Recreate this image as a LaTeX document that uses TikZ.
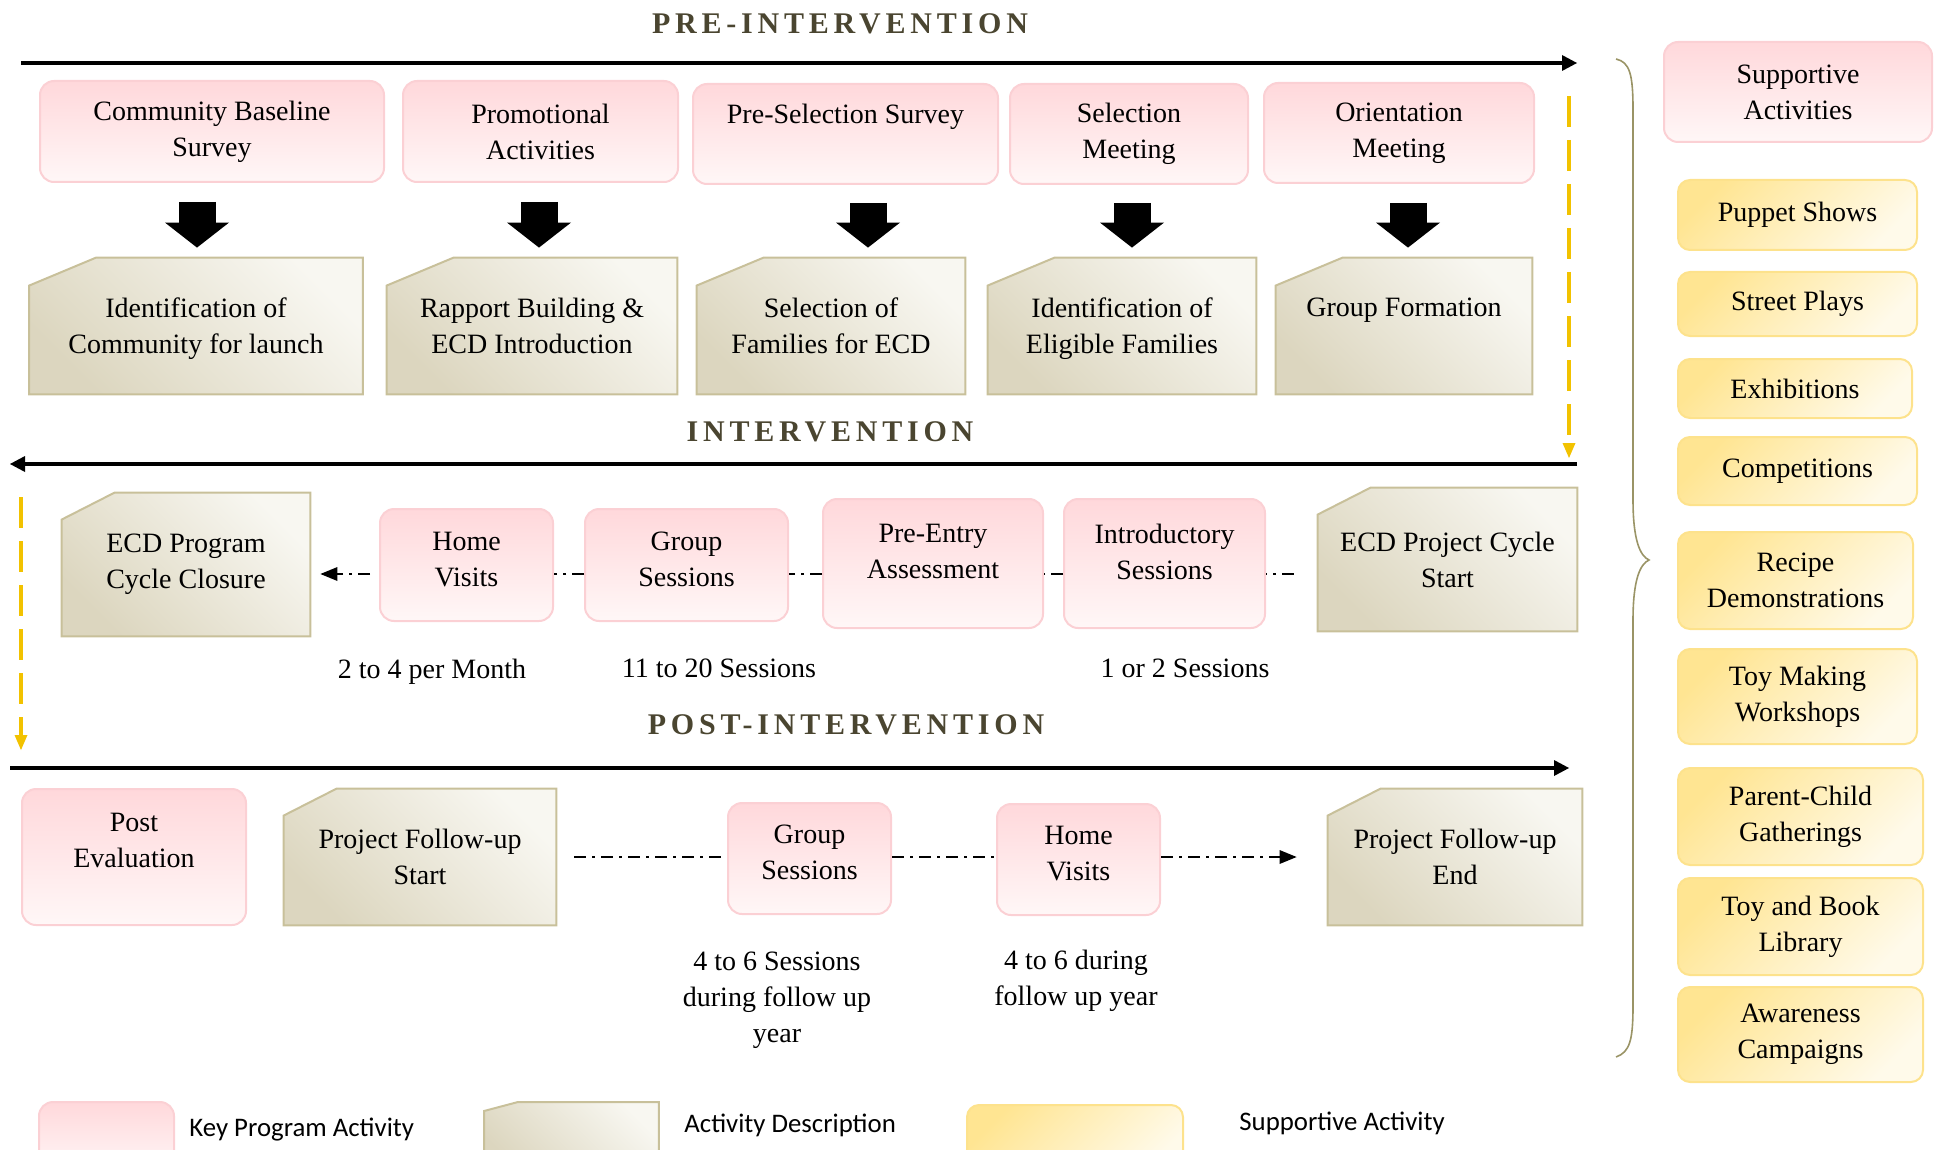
\documentclass[tikz,border=0pt]{standalone}
\usepackage{fontspec}
\setmainfont{Liberation Serif}
\newfontfamily\legendfont{Carlito}
\newfontfamily\phasefont[LetterSpace=16]{Liberation Serif}
\usetikzlibrary{positioning,arrows.meta,calc,backgrounds}
\definecolor{keytop}{HTML}{FFD8DB}
\definecolor{keybottom}{HTML}{FFF7F7}
\definecolor{keyline}{HTML}{FBD0D4}
\definecolor{desclight}{HTML}{F8F7F1}
\definecolor{descdark}{HTML}{DCD6BF}
\definecolor{descline}{HTML}{C8C09A}
\definecolor{supdark}{HTML}{FFE592}
\definecolor{suplight}{HTML}{FFFAEA}
\definecolor{supline}{HTML}{FDE28C}
\definecolor{phasecol}{HTML}{4A4530}
\definecolor{bracecol}{HTML}{9A9466}
\definecolor{flowgold}{HTML}{F2C200}

\begin{document}
\begin{tikzpicture}[
    x=0.5pt, y=-0.5pt,
    font=\fontsize{14}{18}\selectfont,
    boxsize/.style n args={2}{
        minimum width=#1*0.5pt,
        minimum height=#2*0.5pt
    },
    keybox/.style={
        draw=keyline,
        line width=1pt,
        rounded corners=7pt,
        top color=keytop,
        bottom color=keybottom,
        align=center,
        inner sep=2pt
    },
    descbox/.style={
        align=center,
        inner sep=2pt
    },
    descshape/.style={
        draw=descline,
        line width=1pt,
        top color=desclight,
        bottom color=descdark,
        shading angle=-45
    },
    supbox/.style={
        draw=supline,
        line width=1pt,
        rounded corners=6pt,
        top color=supdark,
        bottom color=suplight,
        shading angle=45,
        align=center,
        inner sep=2pt
    },
    phase/.style={font=\fontsize{15}{18}\phasefont\bfseries, text=phasecol},
    note/.style={align=center},
    noteline/.style={text depth=3.5pt},
    legendtext/.style={font=\fontsize{13.4}{16}\legendfont, anchor=west, inner sep=0pt},
    timeline/.style={line width=2pt, -{Triangle[length=7.5pt, width=8pt, line width=0pt]}},
    goldflow/.style={draw=flowgold, line width=1.8pt, dash pattern=on 15.5pt off 6.5pt,
        -{Triangle[length=7.5pt, width=6.5pt, line width=0pt]}},
    blockarrow/.style={line width=18.5pt, -{Triangle[length=12.5pt, width=32pt, line width=0pt]}},
    link/.style={line width=1.2pt, dash pattern=on 6pt off 3pt on 1.5pt off 3pt},
    flow/.style={link, -{Triangle[length=8.5pt, width=7pt, line width=0pt]}}
]
\useasboundingbox (0,0) rectangle (1937,1150);

% PHASE TITLES
\node[phase] (pretitle) at (840,24) {PRE-INTERVENTION};
\node[phase] (intitle) at (830,432) {INTERVENTION};
\node[phase] (posttitle) at (846,725) {POST-INTERVENTION};

% TIMELINES
\coordinate (preA) at (21,63);
\coordinate (preB) at (1577,63);
\coordinate (inA) at (1577,464);
\coordinate (inB) at (10,464);
\coordinate (postA) at (10,768);
\coordinate (postB) at (1569,768);
\draw[timeline] (preA) -- (preB);
\draw[timeline] (inA) -- (inB);
\draw[timeline] (postA) -- (postB);

\coordinate (goldA) at (1569,96);
\coordinate (goldB) at (1569,458);
\coordinate (goldC) at (21,497);
\coordinate (goldD) at (21,750);
\draw[goldflow] (goldA) -- (goldB);
\draw[goldflow] (goldC) -- (goldD);

% PRE-INTERVENTION
\node[keybox, boxsize={344}{101}] (cbs) at (212,131.5)
{Community Baseline\\Survey};
\node[keybox, boxsize={275}{101}] (pa) at (540.5,131.5)
{Promotional\\Activities};
\node[keybox, boxsize={305}{100}, text depth=20.5pt] (pss) at (845.5,134)
{Pre-Selection Survey};
\node[keybox, boxsize={238}{100}] (sm) at (1129,134)
{Selection\\Meeting};
\node[keybox, boxsize={270}{100}] (om) at (1399,133)
{Orientation\\Meeting};

\node[descbox, boxsize={333}{136}, text depth=0pt] (icl) at (196,326)
{Identification of\\Community for launch};
\node[descbox, boxsize={290}{136}] (rb) at (532,326)
{Rapport Building \&\\ECD Introduction};
\node[descbox, boxsize={268}{136}] (sf) at (831,326)
{Selection of\\Families for ECD};
\node[descbox, boxsize={268}{136}, text depth=0pt] (ief) at (1122,326)
{Identification of\\Eligible Families};
\node[descbox, boxsize={256}{136}, text depth=18.3pt] (gf) at (1404,326)
{Group Formation};

\draw[blockarrow] ($(cbs.south)+(-15,19)$) -- ($(cbs.south |- icl.north)+(-15,-10)$);
\draw[blockarrow] ($(pa.south)+(-1.5,19)$) -- ($(pa.south |- rb.north)+(-1.5,-10)$);
\draw[blockarrow] ($(pss.south)+(22.5,18)$) -- ($(pss.south |- sf.north)+(22.5,-10)$);
\draw[blockarrow] ($(sm.south)+(3,18)$) -- ($(sm.south |- ief.north)+(3,-10)$);
\draw[blockarrow] ($(om.south)+(9,19)$) -- ($(om.south |- gf.north)+(9,-10)$);

% INTERVENTION
\node[descbox, boxsize={248}{143}] (closure) at (186,564.5)
{ECD Program\\Cycle Closure};
\node[keybox, boxsize={173}{112}, text depth=6pt] (hv) at (466.5,565)
{Home\\Visits};
\node[keybox, boxsize={203}{112}, text depth=6pt] (gs) at (686.5,565)
{Group\\Sessions};
\node[keybox, boxsize={220}{129}, text depth=12pt] (pea) at (933,563.5)
{Pre-Entry\\Assessment};
\node[keybox, boxsize={201}{129}, text depth=12pt] (intro) at (1164.5,563.5)
{Introductory\\Sessions};
\node[descbox, boxsize={259}{143}] (start) at (1447.5,559.5)
{ECD Project Cycle\\Start};

\coordinate (ilevel) at (0,574);
\draw[link, shorten <=12pt] (start.west |- ilevel) -- (intro.east |- ilevel);
\draw[link] (intro.west |- ilevel) -- (pea.east |- ilevel);
\draw[link] (pea.west |- ilevel) -- (gs.east |- ilevel);
\draw[link] (gs.west |- ilevel) -- (hv.east |- ilevel);
\draw[flow, shorten <=4.5pt, shorten >=5pt] (hv.west |- ilevel) -- (closure.east |- ilevel);

\node[note, noteline] (hvnote) at (432,672) {2 to 4 per Month};
\node[note, noteline] (gsnote) at (719,672) {11 to 20 Sessions};
\node[note, noteline] (intronote) at (1185,672) {1 or 2 Sessions};

% POST-INTERVENTION
\node[keybox, boxsize={224}{136}, text depth=17pt] (pe) at (134,857)
{Post\\Evaluation};
\node[descbox, boxsize={272}{136}] (pfs) at (420,857)
{Project Follow-up\\Start};
\node[keybox, boxsize={163}{111}, text depth=6pt] (pgs) at (809.5,858.5)
{Group\\Sessions};
\node[keybox, boxsize={163}{111}, text depth=6pt] (phv) at (1078.5,859.5)
{Home\\Visits};
\node[descbox, boxsize={254}{136}] (pfe) at (1455,857)
{Project Follow-up\\End};

\coordinate (plevel) at (0,857);
\draw[link, shorten <=9pt] (pfs.east |- plevel) -- (pgs.west |- plevel);
\draw[link] (pgs.east |- plevel) -- (phv.west |- plevel);
\draw[flow, shorten >=15.5pt] (phv.east |- plevel) -- (pfe.west |- plevel);

\node[note] (pgsnote) at (777,1000) {4 to 6 Sessions\\during follow up\\year};
\node[note] (phvnote) at (1076,981) {4 to 6 during\\follow up year};

% SUPPORTIVE ACTIVITIES
\draw[bracecol, line width=0.8pt] (1616,59)
  .. controls (1630,62) and (1633,75) .. (1633,110) -- (1633,500)
  .. controls (1633,540) and (1640,556) .. (1649,560)
  .. controls (1640,564) and (1633,580) .. (1633,620) -- (1633,1005)
  .. controls (1633,1040) and (1630,1052) .. (1616,1057);

\node[keybox, boxsize={268}{100}] (sa) at (1798,92) {Supportive\\Activities};
\node[supbox, boxsize={239}{70}] (ps) at (1797.5,215) {Puppet Shows};
\node[supbox, boxsize={239}{64}] (sp) at (1797.5,304) {Street Plays};
\node[supbox, boxsize={234}{59}] (ex) at (1795,388.5) {Exhibitions};
\node[supbox, boxsize={239}{68}] (co) at (1797.5,471) {Competitions};
\node[supbox, boxsize={235}{97}] (rd) at (1795.5,580.5) {Recipe\\Demonstrations};
\node[supbox, boxsize={239}{95}] (tm) at (1797.5,696.5) {Toy Making\\Workshops};
\node[supbox, boxsize={245}{97}] (pc) at (1800.5,816.5) {Parent-Child\\Gatherings};
\node[supbox, boxsize={245}{97}] (tb) at (1800.5,926.5) {Toy and Book\\Library};
\node[supbox, boxsize={245}{95}] (ac) at (1800.5,1034.5) {Awareness\\Campaigns};

% LEGEND
\node[keybox, boxsize={135}{70}, anchor=north west] (lgkey) at (38,1101) {};
\node[legendtext] (lgkeytext) at (189,1130) {Key Program Activity};
\node[descbox, boxsize={174}{70}, anchor=north west] (lgdesc) at (484,1102) {};
\node[legendtext] (lgdesctext) at (684,1125) {Activity Description};
\node[supbox, boxsize={216}{70}, anchor=north west] (lgsup) at (966,1104) {};
\node[legendtext] (lgsuptext) at (1239,1123) {Supportive Activity};

% DESCRIPTION SHAPES (cut corner, behind the text)
\begin{scope}[on background layer]
\foreach \n in {icl,rb,sf,ief,gf}
  \draw[descshape] (\n.south west) -- ([yshift=-14pt]\n.north west)
    -- ([xshift=33.5pt]\n.north west) -- (\n.north east) -- (\n.south east) -- cycle;
\foreach \n in {closure,start,pfs,pfe}
  \draw[descshape] (\n.south west) -- ([yshift=-13.5pt]\n.north west)
    -- ([xshift=26.5pt]\n.north west) -- (\n.north east) -- (\n.south east) -- cycle;
\draw[descshape] (lgdesc.south west) -- ([yshift=-4.5pt]lgdesc.north west)
    -- ([xshift=17pt]lgdesc.north west) -- (lgdesc.north east) -- (lgdesc.south east) -- cycle;
\end{scope}

\end{tikzpicture}
\end{document}
